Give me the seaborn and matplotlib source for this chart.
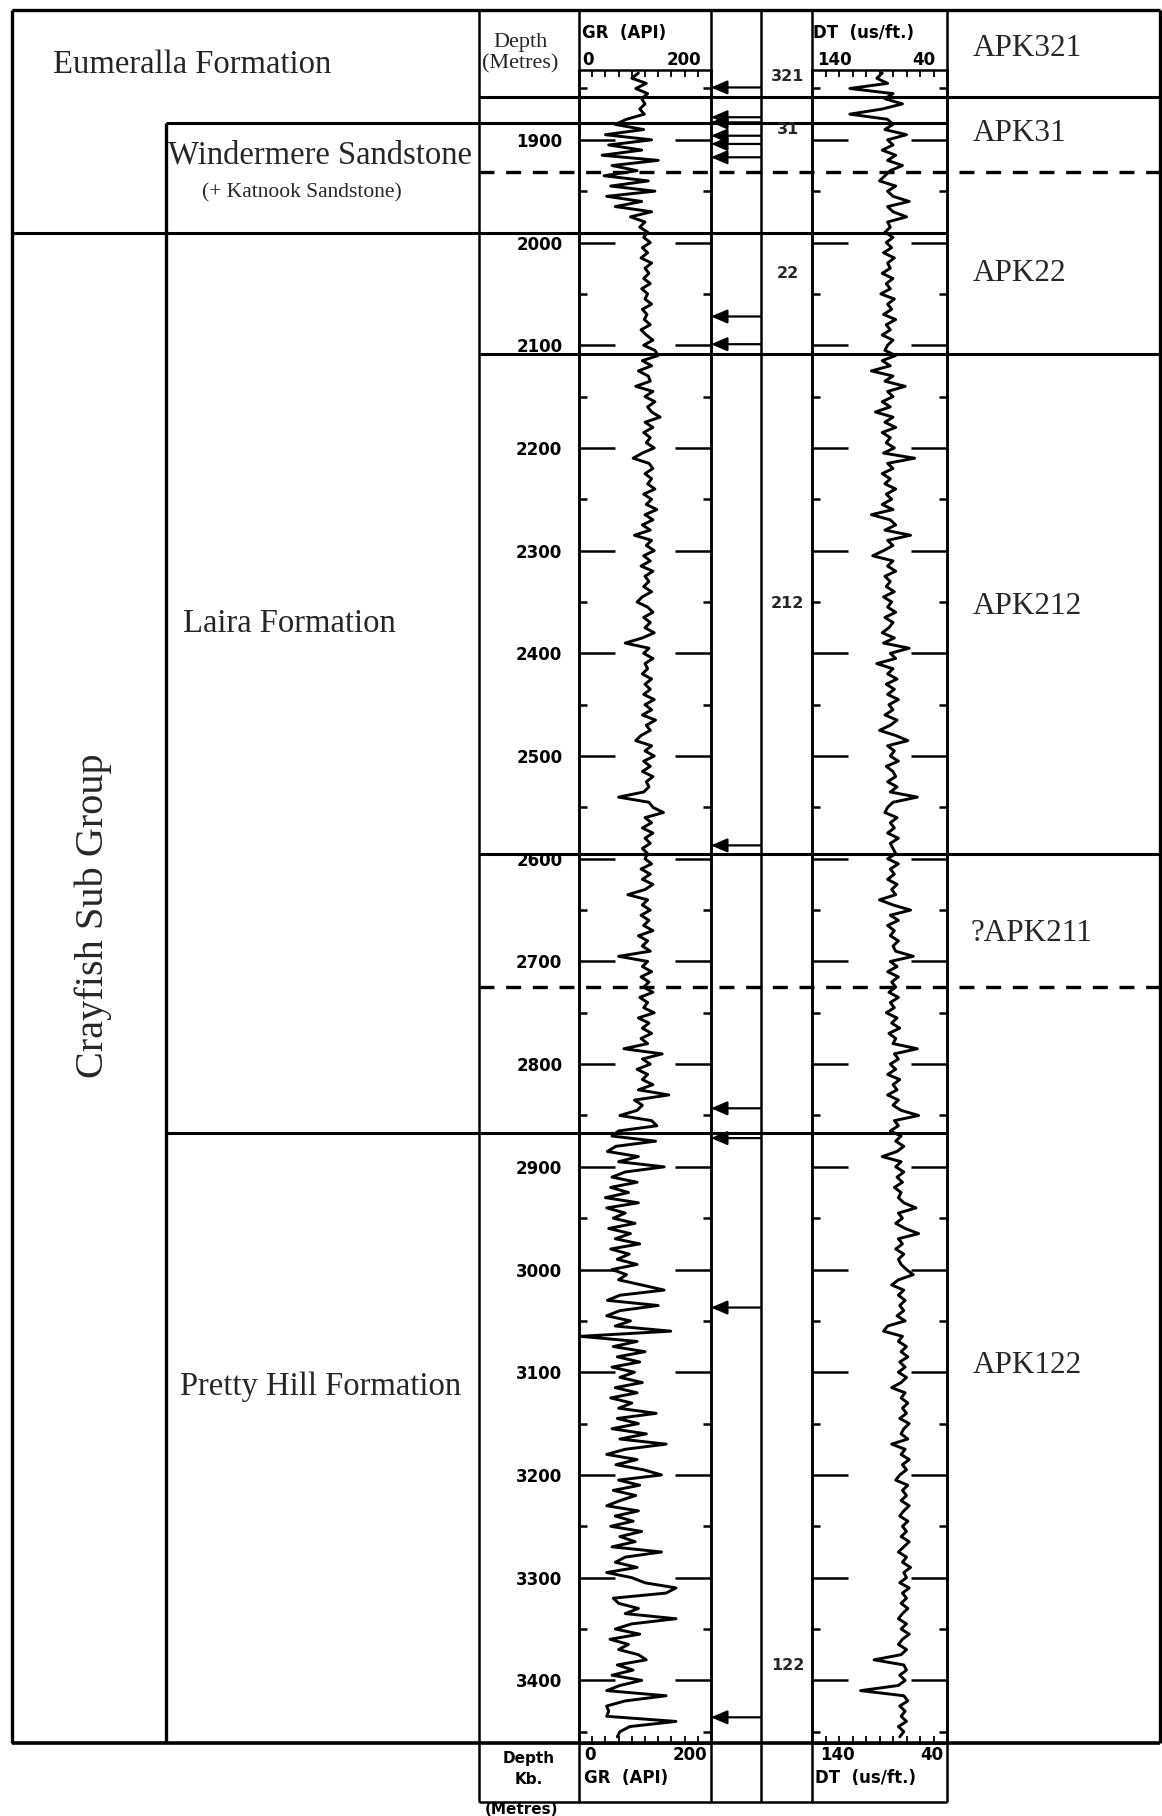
import numpy as np
import pandas as pd
import matplotlib
matplotlib.use("Agg")
import matplotlib.pyplot as plt
import seaborn as sns

"""
Well log panel: GR and DT curves with Otway Basin formation / APK unit zonation.
Curve values were read off the scanned log at 5 m sampling.
"""

DEPTH_START = 1835
DEPTH_STEP = 5

# gamma ray (API), one row per 100 m starting at 1835 m
gr_api = [
    90, 80, 102, 86, 104, 95, 100, 92, 99, 72, 55, 98, 40, 110, 45, 95, 35, 120, 50, 88,
    38, 105, 48, 115, 42, 95, 55, 110, 78, 100, 92, 104, 98, 108, 96, 104, 94, 110, 100, 106,
    98, 108, 95, 104, 100, 110, 96, 103, 99, 108, 94, 102, 112, 98, 115, 120, 96, 110, 90, 105,
    108, 86, 112, 100, 115, 104, 110, 123, 100, 112, 98, 108, 102, 114, 96, 82, 106, 112, 100, 110,
    104, 115, 98, 110, 102, 118, 100, 112, 96, 108, 84, 110, 102, 114, 98, 108, 94, 112, 100, 106,
    98, 110, 96, 88, 104, 112, 98, 108, 100, 114, 96, 70, 106, 98, 112, 100, 104, 96, 110, 100,
    108, 98, 114, 100, 110, 96, 116, 102, 108, 94, 86, 110, 100, 114, 98, 108, 96, 112, 102, 106,
    98, 60, 106, 112, 128, 100, 110, 96, 112, 100, 108, 96, 104, 100, 110, 94, 108, 96, 112, 100,
    74, 104, 96, 108, 94, 106, 98, 112, 90, 104, 96, 108, 60, 104, 96, 110, 94, 106, 98, 112,
    92, 104, 98, 114, 90, 106, 96, 110, 94, 104, 68, 126, 96, 108, 88, 104, 96, 112, 90, 136,
    84, 96, 88, 62, 110, 118, 60, 50, 116, 56, 43, 90, 60, 129, 70, 50, 88, 48, 75, 40,
    90, 42, 70, 52, 85, 45, 78, 55, 92, 48, 76, 58, 88, 50, 72, 60, 95, 129, 62, 43,
    120, 62, 42, 78, 55, 139, 2, 88, 52, 100, 58, 92, 50, 84, 62, 96, 55, 88, 48, 80,
    60, 117, 58, 90, 50, 102, 62, 132, 70, 42, 88, 56, 98, 125, 60, 92, 52, 86, 62, 42,
    90, 55, 82, 48, 95, 62, 85, 50, 125, 70, 55, 88, 42, 80, 100, 147, 132, 52, 60, 90,
    70, 147, 80, 55, 92, 47, 75, 60, 90, 102, 58, 82, 50, 95, 62, 42, 132, 70, 42, 45,
    42, 147, 77, 62, 58,
]

# sonic (us/ft), same sampling
dt_us_ft = [
    88, 92, 84, 112, 80, 86, 73, 88, 112, 84, 80, 86, 70, 84, 80, 88, 78, 84, 73, 82,
    86, 90, 78, 84, 80, 68, 84, 80, 70, 84, 82, 86, 80, 85, 81, 87, 79, 84, 82, 88,
    80, 85, 82, 89, 79, 84, 81, 87, 78, 85, 82, 88, 80, 84, 86, 78, 88, 82, 96, 80,
    86, 71, 84, 80, 88, 82, 93, 80, 86, 78, 88, 82, 85, 79, 87, 64, 84, 80, 88, 82,
    86, 78, 85, 81, 88, 80, 96, 82, 78, 86, 67, 84, 80, 87, 95, 80, 84, 78, 86, 82,
    85, 79, 87, 81, 84, 78, 86, 80, 83, 88, 79, 87, 68, 82, 78, 92, 80, 84, 77, 85,
    79, 84, 76, 83, 80, 86, 77, 82, 90, 78, 69, 84, 79, 82, 76, 85, 80, 78, 84, 77,
    82, 62, 80, 84, 86, 77, 82, 79, 84, 76, 82, 80, 78, 84, 76, 82, 79, 84, 77, 81,
    78, 90, 80, 67, 82, 76, 84, 79, 82, 76, 80, 78, 65, 82, 77, 84, 76, 81, 78, 83,
    76, 82, 79, 85, 77, 81, 75, 83, 78, 80, 62, 79, 76, 82, 78, 84, 75, 80, 77, 84,
    76, 80, 74, 61, 79, 76, 82, 74, 78, 72, 77, 88, 74, 78, 72, 77, 73, 79, 74, 76,
    72, 63, 76, 73, 78, 71, 61, 76, 73, 78, 72, 76, 74, 70, 65, 76, 81, 72, 76, 71,
    75, 72, 77, 71, 84, 87, 73, 76, 70, 74, 69, 75, 71, 76, 70, 74, 81, 71, 74, 69,
    73, 70, 75, 68, 72, 74, 69, 81, 71, 74, 68, 73, 70, 75, 78, 69, 73, 70, 74, 68,
    72, 75, 69, 73, 70, 74, 68, 72, 76, 70, 73, 67, 72, 70, 75, 68, 73, 70, 74, 69,
    73, 76, 70, 74, 68, 73, 76, 70, 74, 94, 72, 70, 75, 71, 76, 104, 72, 69, 75, 71,
    74, 70, 76, 72, 75,
]

# zone boundaries (m): which columns they cross and whether dashed
boundary_depths = [1858, 1884, 1931, 1991, 2109, 2595, 2725, 2867]
boundary_span = ["logs", "formation", "logs", "full", "logs", "logs", "logs", "formation"]
boundary_dashed = [False, False, True, False, False, False, True, False]

formation_names = ["Eumeralla Formation", "Windermere Sandstone", "(+ Katnook Sandstone)",
                   "Laira Formation", "Pretty Hill Formation"]
formation_label_depths = [1827, 1915, 1952, 2371, 3114]
group_name = "Crayfish Sub Group"
group_label_depth = 2655

unit_names = ["APK321", "APK31", "APK22", "APK212", "?APK211", "APK122"]
unit_label_depths = [1811, 1894, 2030, 2354, 2673, 3093]

unit_codes = ["321", "31", "22", "212", "122"]
unit_code_depths = [1838, 1890, 2030, 2351, 3386]

pick_arrow_depths = [1849, 1878, 1883, 1896, 1904, 1917, 2072, 2099, 2587, 2843, 2872, 3037, 3436]

depth_major = [1900, 2000, 2100, 2200, 2300, 2400, 2500, 2600, 2700, 2800, 2900, 3000,
               3100, 3200, 3300, 3400]
depth_minor = [1850, 1950, 2050, 2150, 2250, 2350, 2450, 2550, 2650, 2750, 2850, 2950,
               3050, 3150, 3250, 3350, 3450]
gr_scale_ticks = [0, 20, 40, 60, 80, 100, 120, 140, 160, 180, 200]
dt_scale_ticks = [140, 130, 120, 110, 100, 90, 80, 70, 60, 50, 40]

# page layout in pixels
W, H = 1162, 1816
TOP_DEPTH, BOT_DEPTH = 1832, 3461
LOG_TOP, LOG_BOT = 70, 1743
FRAME_TOP, FOOT_BOT = 10, 1802
LEFT, SUB, DEPTH_L = 12, 166, 479
GR_L, GR_R, ARR_R, DT_L, DT_R, RIGHT = 579, 711, 761, 812, 947, 1160

SERIF = ["Liberation Serif", "DejaVu Serif"]
SANS = ["DejaVu Sans"]


def rect(x0, x1, y0, y1):
    return [x0 / W, 1 - y1 / H, (x1 - x0) / W, (y1 - y0) / H]


def style_track(ax, xlim, xticks, show_depth):
    ax.set_facecolor("none")
    ax.set_xlim(*xlim)
    ax.set_ylim(BOT_DEPTH, TOP_DEPTH)
    ax.set_xlabel("")
    ax.set_ylabel("")
    for sp in ax.spines.values():
        sp.set_visible(True)
        sp.set_color("black")
        sp.set_linewidth(1.8)
    ax.set_xticks(xticks)
    ax.tick_params(axis="x", direction="in", length=5, width=1.3, color="black",
                   top=True, bottom=True, labelbottom=False, labeltop=False)
    ax.set_yticks(depth_major)
    ax.set_yticks(depth_minor, minor=True)
    ax.tick_params(axis="y", which="major", direction="in", length=26, width=1.8, color="black",
                   left=True, right=True, labelleft=show_depth, labelright=False,
                   pad=12, labelsize=12, labelcolor="black")
    ax.tick_params(axis="y", which="minor", direction="in", length=6, width=1.8, color="black",
                   left=True, right=True, labelleft=False)
    if show_depth:
        ax.set_yticklabels([str(d) for d in depth_major], fontweight="bold", family=SANS)


def plot_log(fig_name="out.png"):
    sns.set_theme(style="white")
    plt.rcParams["font.family"] = SERIF

    gr_df = pd.DataFrame({"depth": DEPTH_START + DEPTH_STEP * np.arange(len(gr_api)), "gr": gr_api})
    dt_df = pd.DataFrame({"depth": DEPTH_START + DEPTH_STEP * np.arange(len(dt_us_ft)), "dt": dt_us_ft})

    fig = plt.figure(figsize=(W / 100, H / 100), dpi=100)
    fig.patch.set_facecolor("white")

    page = fig.add_axes([0, 0, 1, 1])
    page.set_xlim(0, W)
    page.set_ylim(H, 0)
    page.axis("off")

    zone = fig.add_axes(rect(0, W, LOG_TOP, LOG_BOT))
    zone.set_xlim(0, W)
    zone.set_ylim(BOT_DEPTH, TOP_DEPTH)
    zone.axis("off")

    # outer frame and column rules
    page.hlines(FRAME_TOP, LEFT, RIGHT, color="black", lw=2.4)
    page.vlines([LEFT, RIGHT], FRAME_TOP, LOG_BOT, color="black", lw=2.4)
    page.vlines([DEPTH_L, GR_L, GR_R, ARR_R, DT_L, DT_R], FRAME_TOP, FOOT_BOT, color="black", lw=1.8)
    page.hlines(FOOT_BOT, DEPTH_L, DT_R, color="black", lw=1.8)
    zone.hlines(BOT_DEPTH, LEFT, RIGHT, color="black", lw=2.6, clip_on=False)
    zone.vlines(SUB, boundary_depths[1], BOT_DEPTH, color="black", lw=2.4)

    spans = {"logs": (DEPTH_L, RIGHT), "formation": (SUB, DT_R), "full": (LEFT, DT_R)}
    for d, span, dashed in zip(boundary_depths, boundary_span, boundary_dashed):
        x0, x1 = spans[span]
        if dashed:
            zone.hlines(d, x0, x1, color="black", lw=2.4, linestyles=(0, (4.5, 3.5)), clip_on=False)
        else:
            zone.hlines(d, x0, x1, color="black", lw=2.2, clip_on=False)

    # formation / group names
    form_x = [53, 168, 202, 183, 180]
    form_size = [23.5, 23.5, 15.5, 23.5, 23.5]
    for name, d, x, s in zip(formation_names, formation_label_depths, form_x, form_size):
        zone.text(x, d, name, ha="left", va="center", fontsize=s, family=SERIF, clip_on=False)
    zone.text(93, group_label_depth, group_name, rotation=90, ha="center", va="center",
              fontsize=29, family=SERIF)

    for name, d in zip(unit_names, unit_label_depths):
        zone.text(973 if not name.startswith("?") else 970, d, name, ha="left", va="center",
                  fontsize=22.5, family=SERIF, clip_on=False)

    for code, d in zip(unit_codes, unit_code_depths):
        zone.text((ARR_R + DT_L) / 2 + 1, d, code, ha="center", va="center", fontsize=11.5,
                  fontweight="bold", family=SANS, clip_on=False)

    for d in pick_arrow_depths:
        zone.annotate("", xy=(GR_R, d), xytext=(ARR_R, d), annotation_clip=False,
                      arrowprops=dict(arrowstyle="-|>,head_length=0.7,head_width=0.3",
                                      color="black", lw=1.6, shrinkA=0, shrinkB=0,
                                      mutation_scale=14))

    # log curves
    gr_ax = fig.add_axes(rect(GR_L, GR_R, LOG_TOP, LOG_BOT))
    sns.lineplot(data=gr_df, x="gr", y="depth", orient="y", sort=False, estimator=None,
                 color="black", lw=2.1, ax=gr_ax)
    style_track(gr_ax, (0, 200), gr_scale_ticks, True)

    dt_ax = fig.add_axes(rect(DT_L, DT_R, LOG_TOP, LOG_BOT))
    sns.lineplot(data=dt_df, x="dt", y="depth", orient="y", sort=False, estimator=None,
                 color="black", lw=2.1, ax=dt_ax)
    style_track(dt_ax, (140, 40), dt_scale_ticks, False)

    # header
    hdr = dict(fontsize=12, fontweight="bold", family=SANS, va="center", color="black")
    page.text(520, 43, "Depth", ha="center", va="center", fontsize=16, family=SERIF)
    page.text(520, 64, "(Metres)", ha="center", va="center", fontsize=16, family=SERIF)
    page.text(GR_L + 3, 33, "GR  (API)", ha="left", **hdr)
    page.text(GR_L + 3, 60, "0", ha="left", **hdr)
    page.text(GR_R - 10, 60, "200", ha="right", **hdr)
    page.text(DT_L + 1, 33, "DT  (us/ft.)", ha="left", **hdr)
    page.text(DT_L + 5, 60, "140", ha="left", **hdr)
    page.text(DT_R - 12, 60, "40", ha="right", **hdr)

    # footer
    foot = dict(hdr, fontsize=11)
    page.text((DEPTH_L + GR_L) / 2, 1758, "Depth", ha="center", **foot)
    page.text((DEPTH_L + GR_L) / 2, 1780, "Kb.", ha="center", **foot)
    page.text((DEPTH_L + GR_L) / 2 - 8, 1809, "(Metres)", ha="center", **foot)
    page.text(GR_L + 5, 1755, "0", ha="left", **hdr)
    page.text(GR_R - 4, 1755, "200", ha="right", **hdr)
    page.text(GR_L + 5, 1778, "GR  (API)", ha="left", **hdr)
    page.text(DT_L + 8, 1755, "140", ha="left", **hdr)
    page.text(DT_R - 4, 1755, "40", ha="right", **hdr)
    page.text(DT_L + 3, 1778, "DT  (us/ft.)", ha="left", **hdr)

    fig.savefig(fig_name, dpi=100, facecolor="white")
    plt.close(fig)


if __name__ == "__main__":
    plot_log()
